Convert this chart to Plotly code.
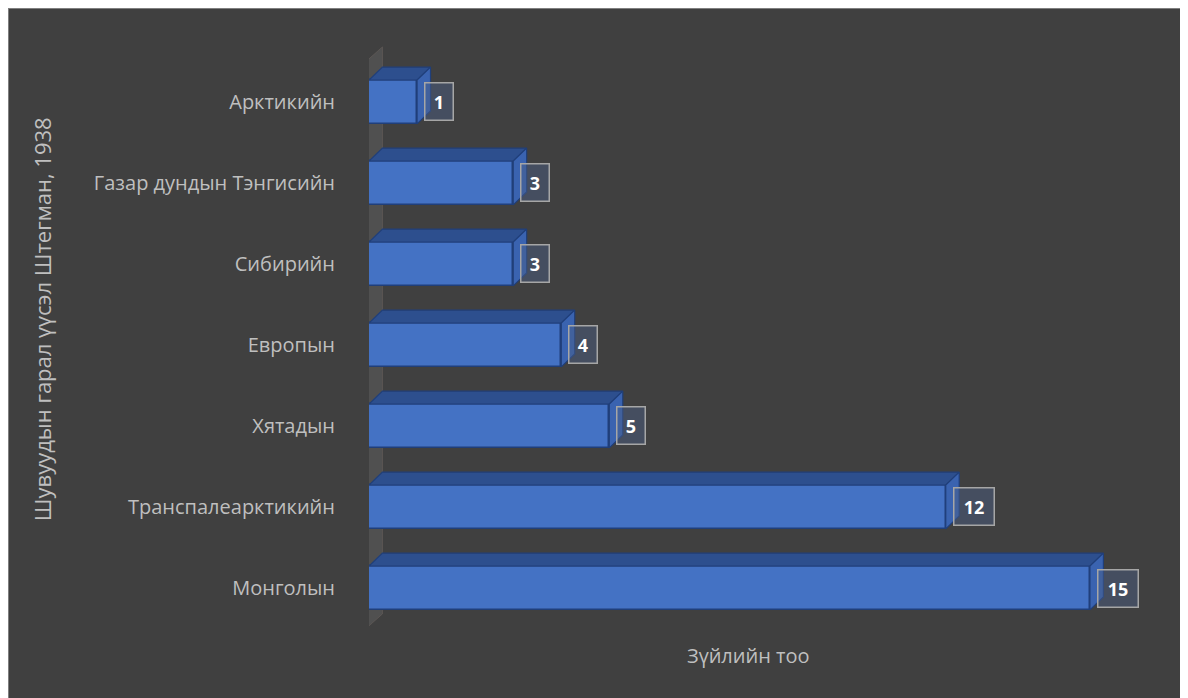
import plotly.graph_objects as go

# data (top of chart -> bottom)
categories = ["Арктикийн", "Газар дундын Тэнгисийн", "Сибирийн", "Европын",
              "Хятадын", "Транспалеарктикийн", "Монголын"]
values = [1, 3, 3, 4, 5, 12, 15]

x_title = "Зүйлийн тоо"
y_title = "Шувуудын гарал үүсэл Штегман, 1938"

# bottom-up positions on a numeric axis so the 3d faces can be drawn
cats = categories[::-1]
vals = values[::-1]
pos = list(range(len(cats)))

half = 0.27      # half bar thickness (category units)
dx = 0.28        # depth offset in value units
dy = 0.16        # depth offset in category units

FRONT = "#4472C4"
TOP = "#2D4F8E"
SIDE = "#3A63B0"
EDGE = "#203F7A"
FONT = "Open Sans"

fig = go.Figure()

# top faces and side faces
tx, ty, sx, sy = [], [], [], []
for p, v in zip(pos, vals):
    tx += [0, v, v + dx, dx, 0, None]
    ty += [p + half, p + half, p + half + dy, p + half + dy, p + half, None]
    sx += [v, v, v + dx, v + dx, v, None]
    sy += [p - half, p + half, p + half + dy, p - half + dy, p - half, None]

fig.add_trace(go.Scatter(x=tx, y=ty, fill="toself", mode="lines",
                         fillcolor=TOP, line=dict(color=EDGE, width=1.2),
                         hoverinfo="skip", showlegend=False))
fig.add_trace(go.Scatter(x=sx, y=sy, fill="toself", mode="lines",
                         fillcolor=SIDE, line=dict(color=EDGE, width=1.2),
                         hoverinfo="skip", showlegend=False))

# front faces
fig.add_trace(go.Bar(x=vals, y=pos, orientation="h", width=2 * half,
                     marker=dict(color=FRONT, line=dict(color=EDGE, width=1.5)),
                     showlegend=False))

# back side wall (below the bars)
n = len(cats)
x0, wd, wdy = -0.1, 0.38, 0.2
fig.add_shape(type="path", xref="x", yref="y", layer="below",
              path=(f"M {x0},{-0.52} L {x0},{n - 0.52} "
                    f"L {x0 + wd},{n - 0.52 + wdy} L {x0 + wd},{-0.52 + wdy} Z"),
              fillcolor="rgba(95,95,95,0.5)",
              line=dict(color="rgba(110,100,95,0.5)", width=1))

# chart frame
fig.add_shape(type="rect", xref="paper", yref="paper", layer="below",
              x0=-361 / 769, x1=1.2, y0=-0.2, y1=1 + 32 / 600,
              line=dict(color="#7F7F7F", width=2), fillcolor="rgba(0,0,0,0)")

# data labels
for p, v in zip(pos, vals):
    fig.add_annotation(x=v, y=p, text=f"<b>{v}</b>", showarrow=False,
                       xanchor="left", yanchor="middle", xshift=7,
                       width=15 if v < 10 else 27,
                       font=dict(family=FONT, size=18, color="white"),
                       bgcolor="rgba(75,95,135,0.45)", bordercolor="#A6A6A6",
                       borderwidth=1.5, borderpad=6)

# axis titles
fig.add_annotation(text=y_title, textangle=-90, xref="paper", yref="paper",
                   x=-0.425, y=0.535, showarrow=False,
                   xanchor="center", yanchor="middle",
                   font=dict(family=FONT, size=22, color="#BFBFBF"))
fig.add_annotation(text=x_title, xref="paper", yref="paper",
                   x=0.494, y=-0.025, showarrow=False,
                   xanchor="center", yanchor="middle",
                   font=dict(family=FONT, size=20, color="#BFBFBF"))

fig.update_layout(
    width=1180, height=690,
    margin=dict(l=361, r=50, t=32, b=58),
    paper_bgcolor="#404040", plot_bgcolor="rgba(0,0,0,0)",
    bargap=0, showlegend=False,
    font=dict(family=FONT, size=20, color="#BFBFBF"),
)
fig.update_xaxes(range=[0, 16], showgrid=False, zeroline=False,
                 showticklabels=False, showline=False)
fig.update_yaxes(range=[-0.642, 6.765], tickmode="array", tickvals=pos,
                 ticktext=cats, showgrid=False, zeroline=False,
                 showline=False, ticklabelstandoff=33,
                 tickfont=dict(family=FONT, size=20, color="#BFBFBF"))

fig.write_html("out.html")
